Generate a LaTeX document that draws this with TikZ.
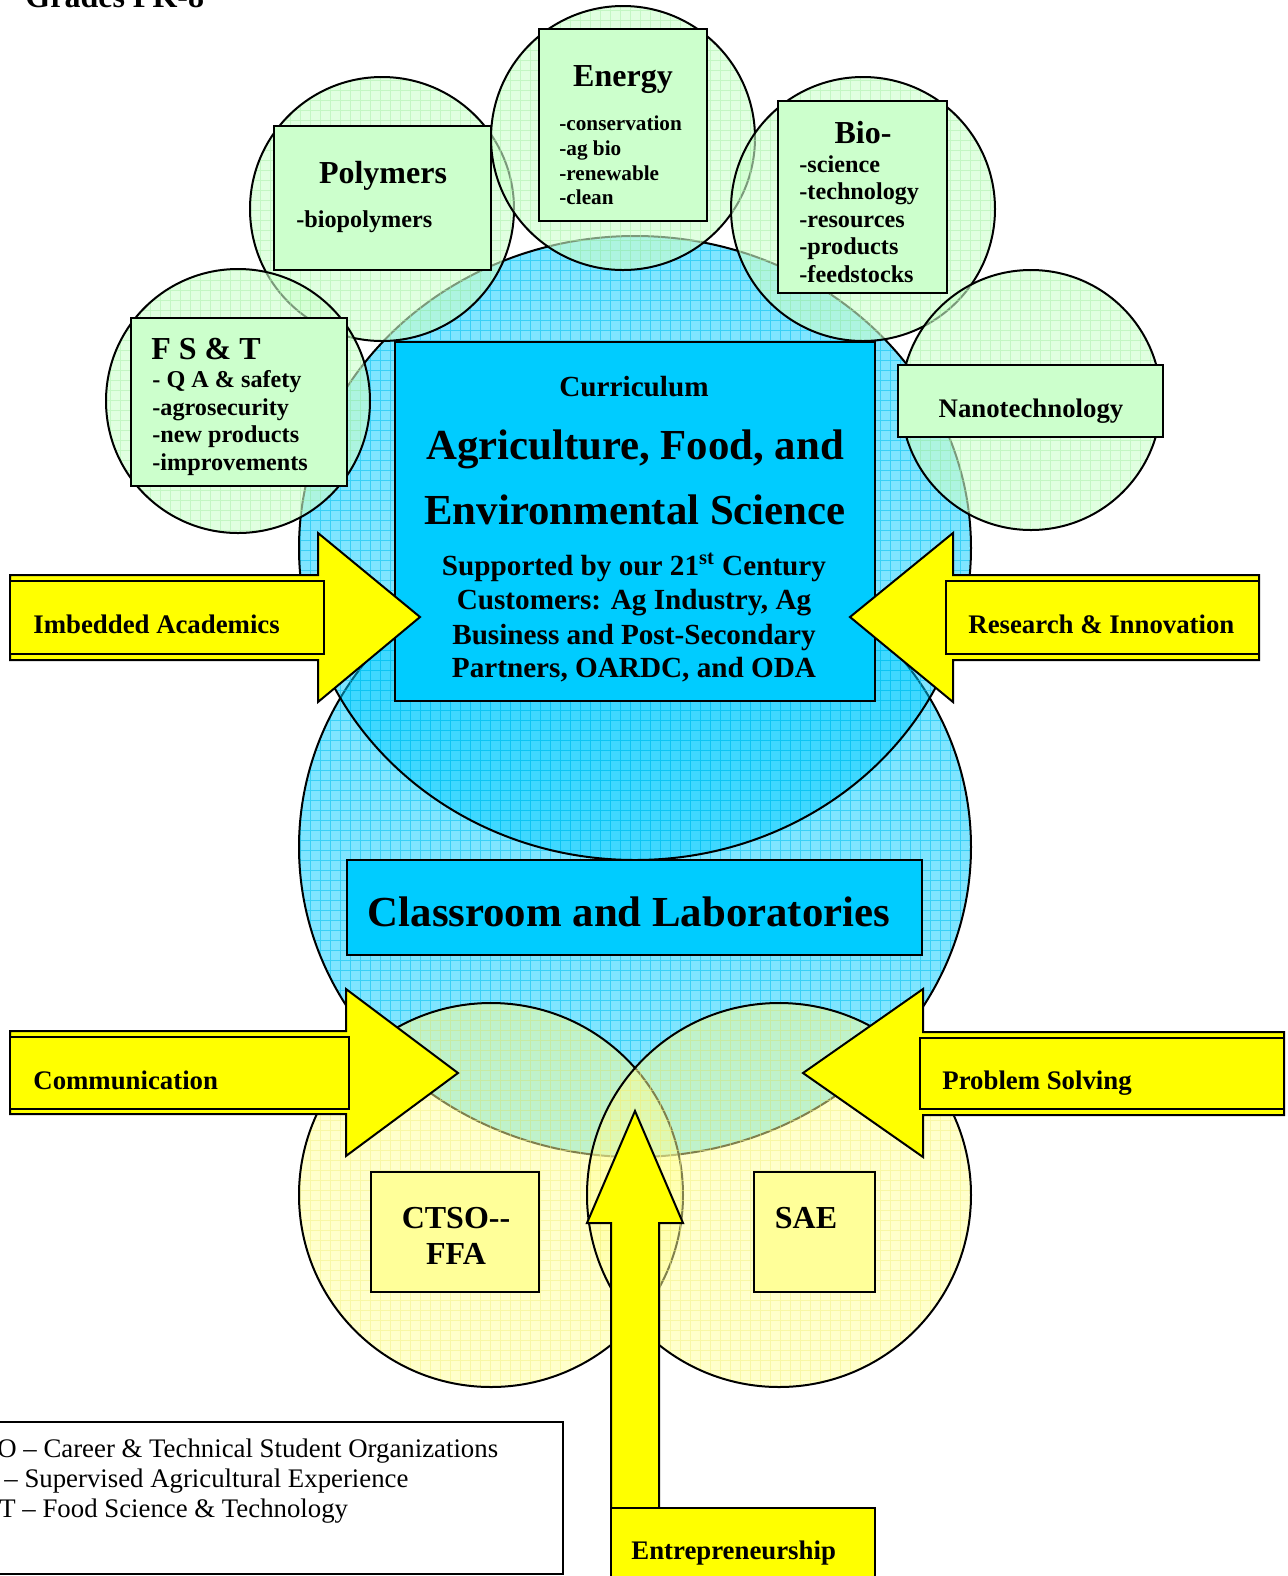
\documentclass[tikz,border=0pt]{standalone}
\usepackage{fontspec}
\setmainfont{Liberation Serif}
\usetikzlibrary{fit}
\definecolor{bluefill}{HTML}{00CCFF}
\definecolor{bluegrid}{HTML}{00BFF0}
\definecolor{greenfill}{HTML}{CCFFCC}
\definecolor{greengrid}{HTML}{A8EEA8}
\definecolor{yelfill}{HTML}{FFFF99}
\definecolor{yelgrid}{HTML}{F2F080}
\definecolor{arrowyel}{HTML}{FFFF00}
\newcommand\fsBig{\fontsize{21.4}{25}\selectfont\bfseries}
\newcommand\fsTitle{\fontsize{16}{19}\selectfont\bfseries}
\newcommand\fsMid{\fontsize{14.6}{17}\selectfont\bfseries}
\newcommand\fsLab{\fontsize{13.4}{16}\selectfont\bfseries}
\newcommand\fsItem{\fontsize{12.1}{14}\selectfont\bfseries}
\newcommand\fsSmall{\fontsize{10.6}{12}\selectfont\bfseries}
\newcommand\fsLeg{\fontsize{13.4}{15}\selectfont}
% fill, textured grid, outline
\newcommand\gridshape[3]{%
  \fill[#1] #3;
  \begin{scope}\clip #3; \draw[#2] (-20,-20) grid (1320,1620); \end{scope}
  \draw[outl] #3;}
\begin{document}
\begin{tikzpicture}[x=0.5pt,y=-0.5pt,
  outl/.style={draw=black, line width=1pt},
  bluef/.style={fill=bluefill, fill opacity=0.5},
  greenf/.style={fill=greenfill, fill opacity=0.6},
  yelf/.style={fill=yelfill, fill opacity=0.5},
  bgrid/.style={bluegrid, draw opacity=0.55, line width=0.5pt, step=5pt},
  ggrid/.style={greengrid, draw opacity=0.5, line width=0.5pt, step=5pt},
  ygrid/.style={yelgrid, draw opacity=0.5, line width=0.5pt, step=5pt},
  boxbase/.style={draw=black, line width=1pt, inner sep=0pt},
  bbox/.style={boxbase, fill=bluefill},
  gbox/.style={boxbase, fill=greenfill},
  ybox/.style={boxbase, fill=yelfill},
  abox/.style={boxbase, fill=arrowyel},
  arrowshape/.style={fill=arrowyel, draw=black, line width=1pt, line join=miter},
  txt/.style={inner sep=0pt, text=black},
  ctr/.style={txt, anchor=base},
  lft/.style={txt, anchor=base west}]
\useasboundingbox (0,0) rectangle (1287,1576);
\fill[white] (0,0) rectangle (1287,1576);

\node[lft, font=\fsTitle] (grades) at (25,7) {Grades PK-8};

% blue ellipses
\gridshape{bluef}{bgrid}{(635,847) ellipse [x radius=336, y radius=310]}
\gridshape{bluef}{bgrid}{(635,548) ellipse [x radius=336, y radius=312]}

% green circles
\gridshape{greenf}{ggrid}{(382,209) circle [radius=132]}
\gridshape{greenf}{ggrid}{(238,401) circle [radius=132]}
\gridshape{greenf}{ggrid}{(623,138) circle [radius=132]}
\gridshape{greenf}{ggrid}{(863,209) circle [radius=132]}
\gridshape{greenf}{ggrid}{(1031,400) circle [radius=130]}

% yellow circles
\gridshape{yelf}{ygrid}{(491,1195) circle [radius=192]}
\gridshape{yelf}{ygrid}{(779,1195) circle [radius=192]}

% blue boxes
\node[bbox, fit={(395,342) (875,701)}] (currbox) {};
\node[ctr, font=\fsMid] (curr) at (634,396) {Curriculum};
\node[ctr, font=\fsBig] (agri1) at (635,459) {Agriculture, Food, and};
\node[ctr, font=\fsBig] (agri2) at (635,524) {Environmental Science};
\node[ctr, font=\fsMid] (sup1) at (634,575) {Supported by our 21\textsuperscript{st} Century};
\node[ctr, font=\fsMid] (sup2) at (634,609) {Customers: Ag Industry, Ag};
\node[ctr, font=\fsMid] (sup3) at (634,644) {Business and Post-Secondary};
\node[ctr, font=\fsMid] (sup4) at (634,677) {Partners, OARDC, and ODA};

\node[bbox, fit={(347,860) (922,955)}] (classbox) {};
\node[ctr, font=\fsBig] (classtxt) at (629,926) {Classroom and Laboratories};

% green boxes
\node[gbox, fit={(131,318) (347,486)}] (fstbox) {};
\node[lft, font=\fsTitle] (fsttitle) at (151,359) {F S \& T};
\node[lft, font=\fsItem] (fst1) at (152,387) {- Q A \& safety};
\node[lft, font=\fsItem] (fst2) at (152,415) {-agrosecurity};
\node[lft, font=\fsItem] (fst3) at (152,442) {-new products};
\node[lft, font=\fsItem] (fst4) at (152,470) {-improvements};

\node[gbox, fit={(274,126) (491,270)}] (polybox) {};
\node[ctr, font=\fsTitle] (polytitle) at (383,183) {Polymers};
\node[lft, font=\fsItem] (poly1) at (296,227) {-biopolymers};

\node[gbox, fit={(539,29) (707,221)}] (enbox) {};
\node[ctr, font=\fsTitle] (entitle) at (623,86) {Energy};
\node[lft, font=\fsSmall] (en1) at (559,130) {-conservation};
\node[lft, font=\fsSmall] (en2) at (559,155) {-ag bio};
\node[lft, font=\fsSmall] (en3) at (559,180) {-renewable};
\node[lft, font=\fsSmall] (en4) at (559,204) {-clean};

\node[gbox, fit={(778,101) (947,293)}] (biobox) {};
\node[ctr, font=\fsTitle] (biotitle) at (863,143) {Bio-};
\node[lft, font=\fsItem] (bio1) at (799,172) {-science};
\node[lft, font=\fsItem] (bio2) at (799,199) {-technology};
\node[lft, font=\fsItem] (bio3) at (799,227) {-resources};
\node[lft, font=\fsItem] (bio4) at (799,254) {-products};
\node[lft, font=\fsItem] (bio5) at (799,282) {-feedstocks};

\node[gbox, fit={(898,365) (1163,437)}] (nanobox) {};
\node[ctr, font=\fsLab] (nanotxt) at (1031,417) {Nanotechnology};

% yellow boxes
\node[ybox, fit={(371,1172) (539,1292)}] (ctsobox) {};
\node[ctr, font=\fsTitle] (ctso1) at (456,1228) {CTSO-{}-};
\node[ctr, font=\fsTitle] (ctso2) at (456,1264) {FFA};
\node[ybox, fit={(754,1172) (875,1292)}] (saebox) {};
\node[ctr, font=\fsTitle] (saetxt) at (806,1228) {SAE};

% legend
\node[boxbase, fill=white, fit={(-20,1422) (563,1574)}] (legend) {};
\node[lft, font=\fsLeg] (leg1) at (-3,1457) {O – Career \& Technical Student Organizations};
\node[lft, font=\fsLeg] (leg2) at (4,1487) {– Supervised Agricultural Experience};
\node[lft, font=\fsLeg] (leg3) at (-1,1517) {T – Food Science \& Technology};

% arrows
\draw[arrowshape] (10,575) -- (318,575) -- (318,533) -- (420,617) -- (318,702) -- (318,660) -- (10,660) -- cycle;
\node[abox, fit={(10,581) (324,654)}] (imbbox) {};
\node[lft, font=\fsLab] (imbtxt) at (33,633) {Imbedded Academics};

\draw[arrowshape] (1259,575) -- (953,575) -- (953,533) -- (850,617) -- (953,702) -- (953,660) -- (1259,660) -- cycle;
\node[abox, fit={(946,581) (1259,654)}] (resbox) {};
\node[lft, font=\fsLab] (restxt) at (968,633) {Research \& Innovation};

\draw[arrowshape] (10,1031) -- (346,1031) -- (346,989) -- (458,1073) -- (346,1156) -- (346,1114) -- (10,1114) -- cycle;
\node[abox, fit={(10,1037) (349,1109)}] (combox) {};
\node[lft, font=\fsLab] (comtxt) at (33,1089) {Communication};

\draw[arrowshape] (1284,1032) -- (923,1032) -- (923,989) -- (803,1073) -- (923,1157) -- (923,1115) -- (1284,1115) -- cycle;
\node[abox, fit={(920,1038) (1284,1109)}] (probbox) {};
\node[lft, font=\fsLab] (probtxt) at (942,1089) {Problem Solving};

\draw[arrowshape] (611,1512) -- (611,1223) -- (587,1223) -- (635,1111) -- (683,1223) -- (659,1223) -- (659,1512) -- cycle;
\node[abox, fit={(611,1508) (875,1610)}] (entbox) {};
\node[lft, font=\fsLab] (enttxt) at (631,1559) {Entrepreneurship};
\end{tikzpicture}
\end{document}
